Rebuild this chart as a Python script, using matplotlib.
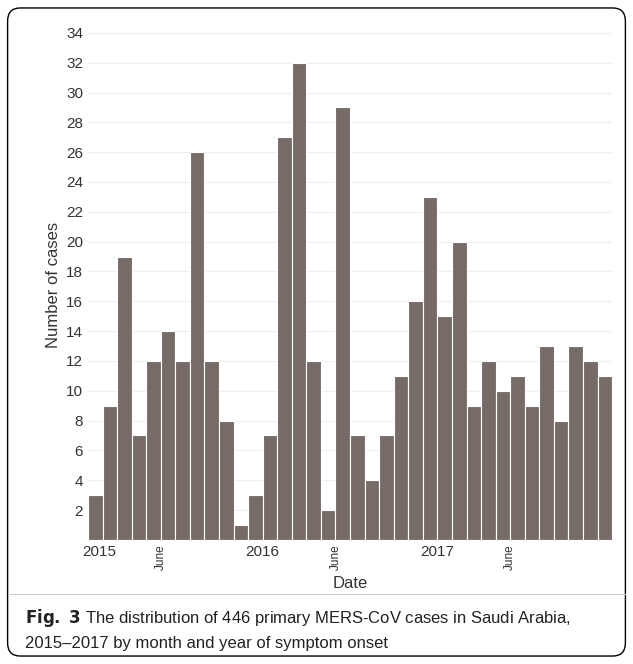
import matplotlib.pyplot as plt
from matplotlib.patches import FancyBboxPatch

plt.rcParams['font.family'] = ['Liberation Sans', 'DejaVu Sans']

# monthly primary MERS-CoV cases, Jan 2015 - Dec 2017
cases_2015 = [3, 9, 19, 7, 12, 14, 12, 26, 12, 8, 1, 3]
cases_2016 = [7, 27, 32, 12, 2, 29, 7, 4, 7, 11, 16, 23]
cases_2017 = [15, 20, 9, 12, 10, 11, 9, 13, 8, 13, 12, 11]
cases = cases_2015 + cases_2016 + cases_2017
year_labels = ["2015", "2016", "2017"]
month_label = "June"

fig = plt.figure(figsize=(6.33, 6.64), dpi=100)
fig.patches.append(FancyBboxPatch((0.012, 0.012), 0.976, 0.976, boxstyle="round,pad=0,rounding_size=0.02",
                                  transform=fig.transFigure, fill=False, ec="black", lw=1))
ax = fig.add_axes([0.139, 0.187, 0.828, 0.768])

x = list(range(len(cases)))
ax.bar(x, cases, width=1.0, color="#776b67", edgecolor="white", linewidth=0.8, zorder=2)
ax.set_xlim(-0.5, len(cases) - 0.5)
ax.set_ylim(0, 34.2)
ax.set_yticks(range(2, 35, 2))
ax.yaxis.grid(True, color="#eeeeee", lw=0.8, zorder=0)
for s in ax.spines.values():
    s.set_visible(False)
ax.tick_params(length=0, labelsize=11, colors="#333333")

ticks = [0.3, 4.5, 11.5, 16.5, 23.5, 28.5]
labels = [year_labels[0], month_label, year_labels[1], month_label, year_labels[2], month_label]
ax.set_xticks(ticks)
ax.set_xticklabels(labels)
for t in ax.get_xticklabels():
    if t.get_text() == month_label:
        t.set_rotation(90)
        t.set_fontsize(8.5)
        t.set_va("top")

ax.set_xlabel("Date", fontsize=12, color="#333333", labelpad=4)
ax.set_ylabel("Number of cases", fontsize=12, color="#333333", labelpad=4)

fig.add_artist(plt.Line2D([0.012, 0.988], [0.105, 0.105], color="#cccccc", lw=0.8))
fig.text(0.04, 0.062, r"$\bf{Fig.\ 3}$ The distribution of 446 primary MERS-CoV cases in Saudi Arabia,",
         fontsize=12, color="#222222")
fig.text(0.04, 0.024, "2015\u20132017 by month and year of symptom onset", fontsize=12, color="#222222")

fig.savefig("out.png", dpi=100)
